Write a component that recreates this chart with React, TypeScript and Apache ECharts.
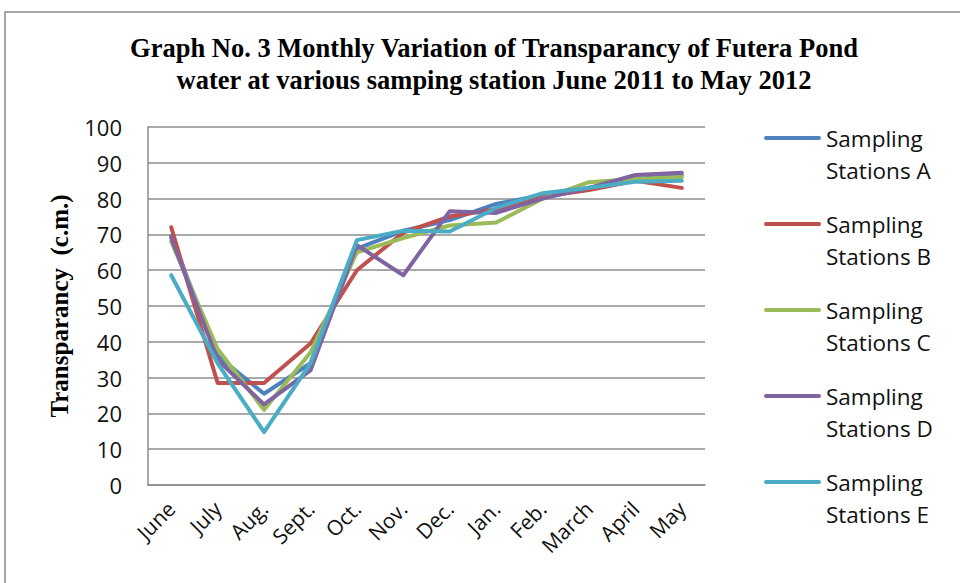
import React, { useEffect, useRef } from "react";
import * as echarts from "echarts";

const months = ["June", "July", "Aug.", "Sept.", "Oct.", "Nov.", "Dec.", "Jan.", "Feb.", "March", "April", "May"];
const seriesNames = ["Sampling Stations A", "Sampling Stations B", "Sampling Stations C", "Sampling Stations D", "Sampling Stations E"];
const stationA = [69.5, 36, 25.5, 34, 66, 71, 74, 78.5, 81, 83, 85.5, 86.5];
const stationB = [72, 28.5, 28.5, 39.5, 60, 70.5, 75, 77, 80.5, 82.4, 85, 83];
const stationC = [68, 38, 21, 37, 65, 69, 72.5, 73.3, 80, 84.6, 85.5, 86];
const stationD = [69, 35, 22.5, 32, 67, 58.6, 76.5, 76, 80, 83, 86.6, 87.2];
const stationE = [58.6, 34, 14.8, 34, 68.4, 71, 70.8, 77.4, 81.5, 83, 84.7, 85];
const yTicks = { min: 0, max: 100, interval: 10 };
const colors = ["#4F81BD", "#C0504D", "#9BBB59", "#8064A2", "#4BACC6"];

const legendIcon =
  "path://M0,0L0.01,0L0.01,0.01Z M2,14L55,14A2,2,0,0,1,55,18L2,18A2,2,0,0,1,2,14Z M0,63.99L0.01,63.99L0.01,64Z";

export default function App() {
  const ref = useRef<HTMLDivElement>(null);
  useEffect(() => {
    if (!ref.current) return;
    const chart = echarts.init(ref.current, null, { renderer: "svg" });
    const data = [stationA, stationB, stationC, stationD, stationE];
    chart.setOption({
      animation: false,
      backgroundColor: "#ffffff",
      color: colors,
      title: {
        text: "Graph No. 3 Monthly Variation of Transparancy of Futera Pond\nwater at various samping station June 2011 to May 2012",
        left: 489,
        top: 27,
        textAlign: "center",
        textStyle: {
          fontFamily: "Liberation Serif",
          fontWeight: "bold",
          fontSize: 26.5,
          lineHeight: 32,
          color: "#000",
        },
      },
      graphic: [
        {
          type: "rect",
          shape: { x: 5, y: 12, width: 1000, height: 1000 },
          style: { fill: "none", stroke: "#8a8a8a", lineWidth: 1.5 },
          silent: true,
        },
      ],
      legend: {
        orient: "vertical",
        left: 759,
        top: 117,
        itemWidth: 57,
        itemHeight: 64,
        itemGap: 22,
        icon: legendIcon,
        formatter: (name: string) => name.replace(" ", "\n"),
        textStyle: {
          fontFamily: "Open Sans",
          fontSize: 22.5,
          lineHeight: 32,
          color: "#111",
        },
        data: seriesNames,
      },
      grid: { left: 148, right: 255, top: 127, bottom: 98 },
      xAxis: {
        type: "category",
        data: months,
        boundaryGap: true,
        axisLine: { lineStyle: { color: "#8c8c8c", width: 1.5 } },
        axisTick: { show: false },
        axisLabel: {
          rotate: 45,
          interval: 0,
          margin: 20,
          fontFamily: "Open Sans",
          fontSize: 21,
          color: "#111",
        },
      },
      yAxis: {
        type: "value",
        min: yTicks.min,
        max: yTicks.max,
        interval: yTicks.interval,
        name: "Transparancy  (c.m.)",
        nameLocation: "middle",
        nameGap: 76,
        nameTextStyle: {
          fontFamily: "Liberation Serif",
          fontWeight: "bold",
          fontSize: 25,
          color: "#000",
        },
        axisLine: { show: true, lineStyle: { color: "#8c8c8c", width: 1.5 } },
        axisTick: { show: false },
        splitLine: { lineStyle: { color: "#8c8c8c", width: 1.5 } },
        axisLabel: {
          margin: 26,
          fontFamily: "Open Sans",
          fontSize: 22,
          color: "#111",
        },
      },
      series: data.map((d, i) => ({
        name: seriesNames[i],
        type: "line",
        data: d,
        symbol: "none",
        lineStyle: { width: 4, color: colors[i], cap: "round", join: "round" },
        itemStyle: { color: colors[i] },
      })),
    });
    return () => chart.dispose();
  }, []);
  return <div ref={ref} style={{ position: "fixed", left: 0, top: 0, width: 960, height: 583 }} />;
}
